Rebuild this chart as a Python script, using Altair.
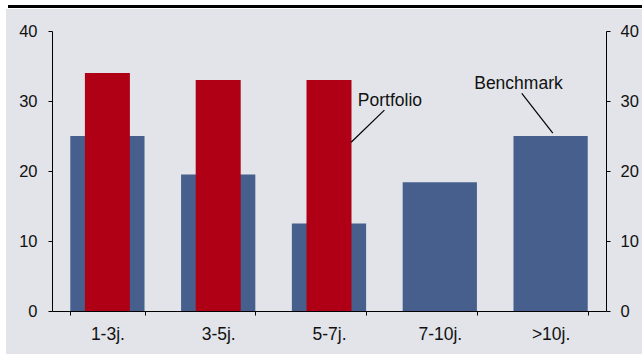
import altair as alt
import pandas as pd

categories = ["1-3j.", "3-5j.", "5-7j.", "7-10j.", ">10j."]
benchmark = [25, 19.5, 12.5, 18.4, 25]
portfolio = [34, 33, 33, None, None]
y_ticks = [0, 10, 20, 30, 40]

# annotation labels (centred) and leader lines, in data units (x: 0..5 across the category axis)
ann_text = ["Portfolio", "Benchmark"]
ann_tx = [3.05, 4.21]
ann_ty = [30.0, 32.5]
line_x1 = [2.70, 4.24]
line_y1 = [24.1, 31.1]
line_x2 = [3.00, 4.52]
line_y2 = [28.7, 25.4]

BLUE = "#475F8D"
RED = "#B00016"
BG = "#E2E4E9"
FONT = "Liberation Sans"
FS = 17.5
FSY = 16.5

bars = pd.DataFrame({"cat": categories, "benchmark": benchmark, "portfolio": portfolio})
ann = pd.DataFrame({"text": ann_text, "tx": ann_tx, "ty": ann_ty,
                    "x1": line_x1, "y1": line_y1, "x2": line_x2, "y2": line_y2})
dummy = pd.DataFrame({"a": [0]})

ydom = alt.Scale(domain=[0, 40], nice=False)
xband = alt.Scale(domain=categories, paddingInner=0.33, paddingOuter=0.165)

bg = alt.Chart(dummy).mark_rect(color=BG).encode(
    x=alt.value(-46), x2=alt.value(590), y=alt.value(-22), y2=alt.value(323)
)
topline = alt.Chart(dummy).mark_rect(color="#000000").encode(
    x=alt.value(-44), x2=alt.value(590), y=alt.value(-26), y2=alt.value(-23)
)

bench = alt.Chart(bars).mark_bar(color=BLUE).encode(
    x=alt.X("cat:N", scale=xband, sort=categories, title=None,
            axis=alt.Axis(orient="bottom", labelAngle=0, tickBand="extent", tickSize=4,
                          labelPadding=10, domainColor="#000", tickColor="#000", zindex=2,
                          labelColor="#111", labelFont=FONT, labelFontSize=FS)),
    y=alt.Y("benchmark:Q", scale=ydom, title=None,
            axis=alt.Axis(orient="left", values=y_ticks, tickSize=4, labelPadding=11,
                          domainColor="#000", tickColor="#000", grid=False, zindex=2,
                          labelColor="#111", labelFont=FONT, labelFontSize=FSY)),
)

port = alt.Chart(bars).transform_filter("datum.portfolio != null").mark_bar(
    color=RED, width=45).encode(
    x=alt.X("cat:N", scale=xband, sort=categories, axis=None),
    y=alt.Y("portfolio:Q", scale=ydom, axis=None),
)

right = alt.Chart(bars).mark_bar(opacity=0).encode(
    x=alt.X("cat:N", scale=xband, sort=categories, axis=None),
    y=alt.Y("benchmark:Q", scale=ydom, title=None,
            axis=alt.Axis(orient="right", values=y_ticks, tickSize=4, labelPadding=10,
                          domainColor="#000", tickColor="#000", grid=False, zindex=2,
                          labelColor="#111", labelFont=FONT, labelFontSize=FSY)),
)

xq = alt.Scale(domain=[0, 5], nice=False, zero=False)
lines = alt.Chart(ann).mark_rule(color="#000", strokeWidth=1.2).encode(
    x=alt.X("x1:Q", scale=xq, axis=None), x2="x2:Q",
    y=alt.Y("y1:Q", scale=ydom, axis=None), y2="y2:Q",
)
texts = alt.Chart(ann).mark_text(font=FONT, fontSize=FS, color="#111",
                                 baseline="middle", align="center").encode(
    x=alt.X("tx:Q", scale=xq, axis=None),
    y=alt.Y("ty:Q", scale=ydom, axis=None),
    text="text:N",
)

chart = alt.layer(bg, topline, bench, port, right, lines, texts).resolve_scale(
    x="independent", y="independent"
).properties(
    width=554, height=280,
    autosize=alt.AutoSizeParams(type="none"),
    padding={"left": 52, "top": 31, "right": 36, "bottom": 43},
    background="#FFFFFF",
).configure_view(stroke=None)

chart.save("out.html", embed_options={"renderer": "svg", "actions": False})
